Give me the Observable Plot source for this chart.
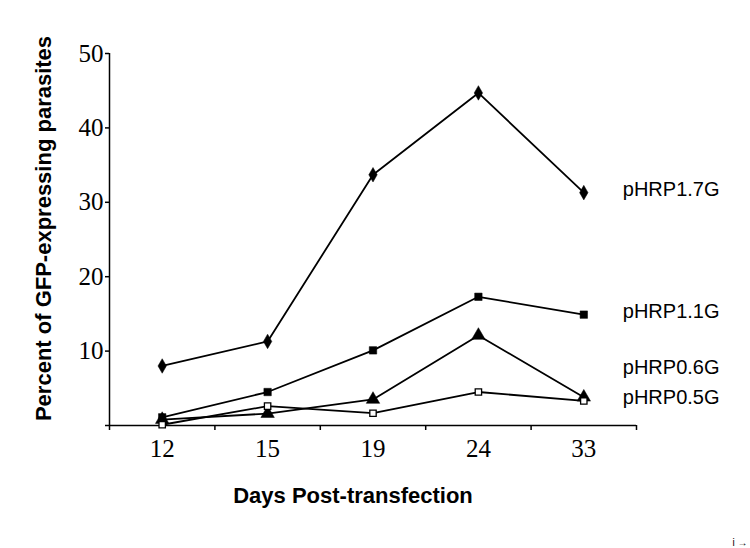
<!DOCTYPE html>
<html>
<head>
<meta charset="utf-8">
<script src="https://cdn.jsdelivr.net/npm/d3@7"></script>
<script src="https://cdn.jsdelivr.net/npm/@observablehq/plot@0.6"></script>
<style>
  html, body { margin: 0; padding: 0; background: #fff; }
</style>
</head>
<body>
<div id="chart"></div>
<script>
const days = ["12", "15", "19", "24", "33"];
const series = ["pHRP1.7G", "pHRP1.1G", "pHRP0.6G", "pHRP0.5G"];
const p17 = [8.0, 11.3, 33.7, 44.7, 31.3];
const p11 = [1.1, 4.5, 10.1, 17.3, 14.9];
const p06 = [0.8, 1.6, 3.5, 12.1, 3.8];
const p05 = [0.1, 2.6, 1.65, 4.5, 3.3];
const yTicks = [0, 10, 20, 30, 40, 50];
const yTitle = "Percent of GFP-expressing parasites";
const xTitle = "Days Post-transfection";

const values = [p17, p11, p06, p05];
const symbols = ["diamond", "square", "triangle", "square"];
const fills = ["black", "black", "black", "white"];
const radii = [4.4, 4.2, 5, 3.6];

const rows = [];
series.forEach((s, k) => values[k].forEach((v, i) => rows.push({series: s, k, i, day: days[i], v})));
const lastRows = rows.filter(d => d.i === days.length - 1);

const bounds = days.map((d, i) => i - 0.5).concat([days.length - 0.5]);
const serif = "'Liberation Serif', 'Times New Roman', serif";
const sans = "'Liberation Sans', Arial, sans-serif";

const marks = [
  Plot.ruleY([0], {stroke: "black", strokeWidth: 1.5}),
  Plot.ruleX([-0.5], {stroke: "black", strokeWidth: 1.5}),
  Plot.axisX({ticks: bounds, tickSize: 5, tickFormat: () => "", strokeWidth: 1.5}),
  Plot.axisX({ticks: d3.range(days.length), tickSize: 0, tickPadding: 14, tickFormat: i => days[i],
    fontFamily: serif, fontSize: 25, label: null}),
  Plot.axisY({ticks: yTicks, tickSize: 4, tickPadding: 2, tickFormat: d => d === 0 ? "" : d,
    fontFamily: serif, fontSize: 25, label: null, strokeWidth: 1.5}),
  Plot.line(rows, {x: "i", y: "v", z: "series", stroke: "black", strokeWidth: 1.8})
];
series.forEach((s, k) => {
  marks.push(Plot.dot(rows.filter(d => d.k === k), {x: "i", y: "v", symbol: () => symbols[k],
    r: radii[k], fill: fills[k], stroke: "black", strokeWidth: k === 3 ? 1.3 : 0.5}));
});
marks.push(
  Plot.text(lastRows.filter(d => d.series !== "pHRP0.6G"), {x: "i", y: "v", text: "series", textAnchor: "start",
    dx: 39, dy: -3, fontFamily: sans, fontSize: 20}),
  Plot.text(lastRows.filter(d => d.series === "pHRP0.6G"), {x: "i", y: "v", text: "series", textAnchor: "start",
    dx: 39, dy: -30, fontFamily: sans, fontSize: 20}),
  Plot.text([xTitle], {frameAnchor: "bottom", text: d => d, dx: -20, dy: 77, fontFamily: sans,
    fontSize: 22, fontWeight: "bold"}),
  Plot.text([yTitle], {frameAnchor: "left", textAnchor: "middle", text: d => d, rotate: -90, dx: -66, dy: -11,
    fontFamily: sans, fontSize: 22, fontWeight: "bold"})
);

const chart = Plot.plot({
  width: 750,
  height: 548,
  marginLeft: 109,
  marginRight: 114,
  marginTop: 53,
  marginBottom: 123,
  x: {type: "linear", domain: [-0.5, days.length - 0.5], axis: null},
  y: {type: "linear", domain: [0, 50], axis: null},
  style: {background: "white", color: "black", fontFamily: sans, overflow: "visible"},
  marks
});
document.getElementById("chart").appendChild(chart);
</script>
</body>
</html>
